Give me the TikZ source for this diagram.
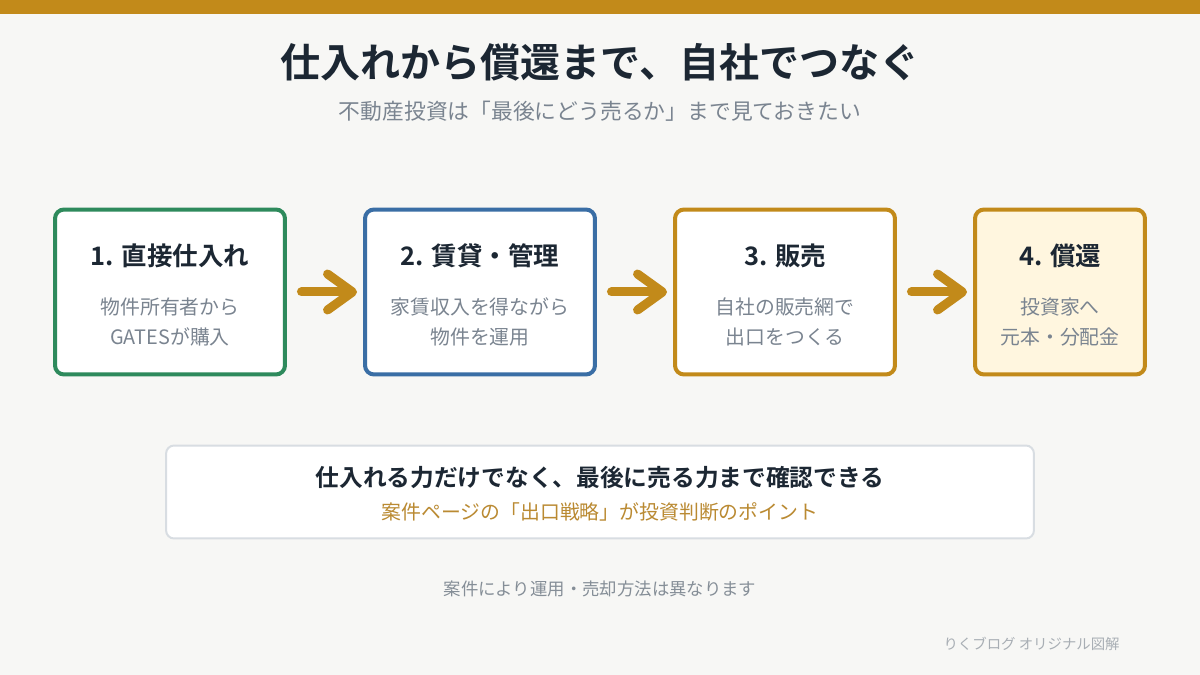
\documentclass[tikz,border=0pt]{standalone}
\usepackage{fontspec}
\setmainfont{Noto Sans CJK JP}[BoldFont={* Bold}]
\usetikzlibrary{arrows.meta}
\definecolor{bg}{HTML}{F7F7F5}
\definecolor{gold}{HTML}{C28A1A}
\definecolor{stepgreen}{HTML}{2E8A5C}
\definecolor{stepblue}{HTML}{3A6EA5}
\definecolor{goldfill}{HTML}{FFF6DF}
\definecolor{ink}{HTML}{1C2733}
\definecolor{muted}{HTML}{7A8490}
\definecolor{boxline}{HTML}{D8DDE2}
\definecolor{goldtext}{HTML}{BA8A32}
\definecolor{notegray}{HTML}{858E97}
\definecolor{creditgray}{HTML}{A8AEB4}

\begin{document}
\begin{tikzpicture}[x=0.02cm, y=-0.02cm,
  stepbox/.style={draw, line width=0.08cm, rounded corners=0.18cm, fill=white,
    minimum height=3.3cm, inner sep=0pt, outer sep=0pt},
  steptitle/.style={font=\bfseries\fontsize{14.5}{17}\selectfont, text=ink},
  steptext/.style={font=\fontsize{11.3}{17}\selectfont, text=muted, align=center},
  flow/.style={draw=gold, line width=0.18cm, line cap=round,
    -{Straight Barb[round, length=0.5cm, width=0.72cm]}}
]

%---------------------------------------
% Background and top bar
%---------------------------------------
\fill[bg] (0,0) rectangle (1200,675);
\fill[gold] (0,0) rectangle (1200,14);
\useasboundingbox (0,0) rectangle (1200,675);

\def\By{292}    % box centre
\def\Ty{256}    % step title
\def\Dy{322}    % step text

% Heading
\node[font=\bfseries\fontsize{22.8}{27}\selectfont, text=ink] (title) at (600,62)
      {仕入れから償還まで、自社でつなぐ};
\node[font=\fontsize{12.4}{15}\selectfont, text=muted] (subtitle) at (600,111)
      {不動産投資は「最後にどう売るか」まで見ておきたい};

%====================================================
% STEP 1: purchase
%====================================================
\node[stepbox, draw=stepgreen, minimum width=4.6cm] (b1) at (170,\By) {};
\node[steptitle] (b1title) at (170,\Ty) {1. 直接仕入れ};
\node[steptext]  (b1text)  at (170,\Dy) {物件所有者から\\GATESが購入};

%====================================================
% STEP 2: lease and management
%====================================================
\node[stepbox, draw=stepblue, minimum width=4.6cm] (b2) at (480,\By) {};
\node[steptitle] (b2title) at (480,\Ty) {2. 賃貸・管理};
\node[steptext]  (b2text)  at (480,\Dy) {家賃収入を得ながら\\物件を運用};

%====================================================
% STEP 3: sale
%====================================================
\node[stepbox, draw=gold, minimum width=4.4cm] (b3) at (785,\By) {};
\node[steptitle] (b3title) at (785,\Ty) {3. 販売};
\node[steptext]  (b3text)  at (785,\Dy) {自社の販売網で\\出口をつくる};

%====================================================
% STEP 4: redemption
%====================================================
\node[stepbox, draw=gold, fill=goldfill, minimum width=3.4cm] (b4) at (1060,\By) {};
\node[steptitle] (b4title) at (1060,\Ty) {4. 償還};
\node[steptext]  (b4text)  at (1060,\Dy) {投資家へ\\元本・分配金};

% Arrows between steps
\draw[flow] ([xshift=0.33cm]b1.east) -- ([xshift=-0.16cm]b2.west);
\draw[flow] ([xshift=0.33cm]b2.east) -- ([xshift=-0.16cm]b3.west);
\draw[flow] ([xshift=0.33cm]b3.east) -- ([xshift=-0.16cm]b4.west);

%====================================================
% Key point box
%====================================================
\node[draw=boxline, line width=0.04cm, rounded corners=0.16cm, fill=white,
      minimum width=17.36cm, minimum height=1.86cm, inner sep=0pt, outer sep=0pt]
      (pointbox) at (600,492) {};
\node[font=\bfseries\fontsize{13.5}{16}\selectfont, text=ink] (point) at (600,477)
      {仕入れる力だけでなく、最後に売る力まで確認できる};
\node[font=\fontsize{11.3}{14}\selectfont, text=goldtext] (pointsub) at (600,512)
      {案件ページの「出口戦略」が投資判断のポイント};

% Notes
\node[font=\fontsize{9.9}{12}\selectfont, text=notegray] (caveat) at (600,589)
      {案件により運用・売却方法は異なります};
\node[font=\fontsize{8.2}{10}\selectfont, text=creditgray, anchor=east, inner sep=0pt]
      (credit) at (1120,644) {りくブログ オリジナル図解};

\end{tikzpicture}
\end{document}
